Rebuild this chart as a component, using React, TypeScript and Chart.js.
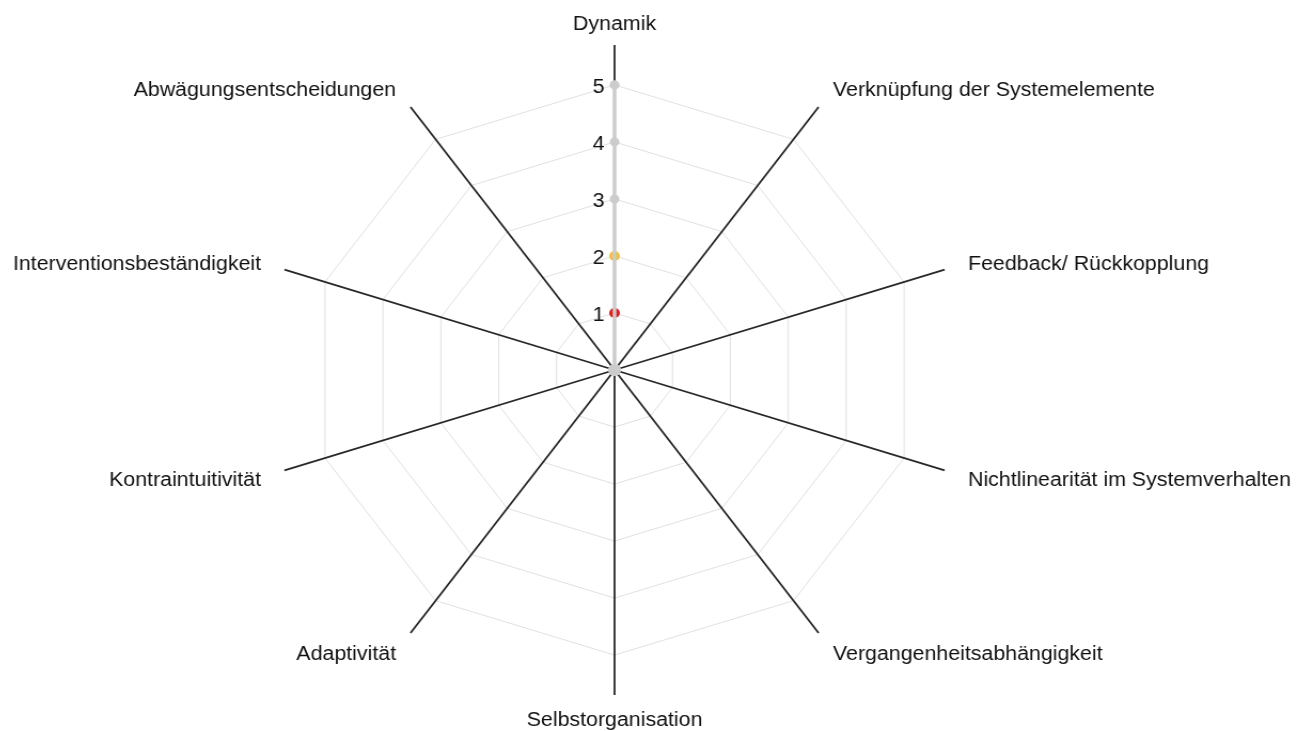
import React, { useEffect, useRef } from "react";
import { Chart, registerables } from "chart.js";

Chart.register(...registerables);

const categories = [
  "Dynamik",
  "Verknüpfung der Systemelemente",
  "Feedback/ Rückkopplung",
  "Nichtlinearität im Systemverhalten",
  "Vergangenheitsabhängigkeit",
  "Selbstorganisation",
  "Adaptivität",
  "Kontraintuitivität",
  "Interventionsbeständigkeit",
  "Abwägungsentscheidungen",
];

const scaleLine = [5, 0, 0, 0, 0, 0, 0, 0, 0, 0];
const level1 = [1, 0, 0, 0, 0, 0, 0, 0, 0, 0];
const level2 = [2, 0, 0, 0, 0, 0, 0, 0, 0, 0];
const level3 = [3, 0, 0, 0, 0, 0, 0, 0, 0, 0];
const level4 = [4, 0, 0, 0, 0, 0, 0, 0, 0, 0];
const level5 = [5, 0, 0, 0, 0, 0, 0, 0, 0, 0];
const levelSeries = [level1, level2, level3, level4, level5];
const levelColors = ["#e3191c", "#f1c232", "#cccccc", "#cccccc", "#cccccc"];
const levelRadius = [5, 5, 4.5, 4.5, 4.5];
const tickValues = [0, 1, 2, 3, 4, 5];
const axisMax = 5.7;

const FONT = "'Liberation Sans', Arial, sans-serif";

const textShift = {
  id: "textShift",
  beforeDraw(chart: any) {
    const ctx = chart.ctx as any;
    if (ctx.__shifted) return;
    const orig = ctx.fillText.bind(ctx);
    ctx.fillText = (t: string, x: number, y: number, w?: number) =>
      w === undefined ? orig(t, x, y + 2.5) : orig(t, x, y + 2.5, w);
    ctx.__shifted = true;
  },
};

export default function App() {
  const ref = useRef<HTMLCanvasElement | null>(null);

  useEffect(() => {
    if (!ref.current) return;
    const markerSets = levelSeries.map((d, k) => ({
      label: "Stufe " + (k + 1),
      data: d,
      showLine: false,
      fill: false,
      borderWidth: 0,
      backgroundColor: "transparent",
      pointBackgroundColor: levelColors[k],
      pointBorderWidth: 0,
      pointRadius: (c: any) => (c.dataIndex === 0 ? levelRadius[k] : 0),
    }));
    const chart = new Chart(ref.current, {
      type: "radar",
      data: {
        labels: categories,
        datasets: [
          {
            label: "Skala",
            data: scaleLine,
            fill: false,
            backgroundColor: "transparent",
            borderColor: "#cccccc",
            borderWidth: 3.5,
            pointBackgroundColor: "#cccccc",
            pointBorderWidth: 0,
            pointRadius: (c: any) => (c.dataIndex === 0 ? 4.5 : 5.5),
          },
          ...markerSets,
        ],
      },
      plugins: [textShift],
      options: {
        responsive: false,
        animation: false,
        events: [],
        layout: { padding: { top: 22, bottom: 13, left: 0, right: 0 } },
        elements: { line: { tension: 0 } },
        plugins: {
          legend: { display: false },
          tooltip: { enabled: false },
          title: { display: false },
        },
        scales: {
          r: {
            min: 0,
            max: axisMax,
            startAngle: 0,
            afterBuildTicks: (scale: any) => {
              scale.ticks = tickValues.map((v) => ({ value: v }));
            },
            grid: { color: "#e0e0e0", lineWidth: 1 },
            angleLines: { color: "#262626", lineWidth: 1.8 },
            ticks: {
              display: true,
              showLabelBackdrop: false,
              backdropPadding: 0,
              color: "#111111",
              font: { family: FONT, size: 20 },
              callback: (v: any) => String(v) + "\u2003\u2002",
            },
            pointLabels: {
              display: true,
              padding: 13,
              color: "#111111",
              font: { family: FONT, size: 20, lineHeight: 0 },
            },
          },
        },
      },
    });
    return () => chart.destroy();
  }, []);

  return (
    <div
      style={{
        position: "fixed",
        left: 0,
        top: 0,
        width: 1311,
        height: 731,
        overflow: "hidden",
        background: "#ffffff",
      }}
    >
      <div
        style={{
          position: "absolute",
          left: -85.5,
          top: 0,
          width: 1310,
          height: 731,
          transform: "scaleX(1.068)",
          transformOrigin: "0 0",
        }}
      >
        <canvas ref={ref} width={1310} height={731} style={{ display: "block" }} />
      </div>
    </div>
  );
}
